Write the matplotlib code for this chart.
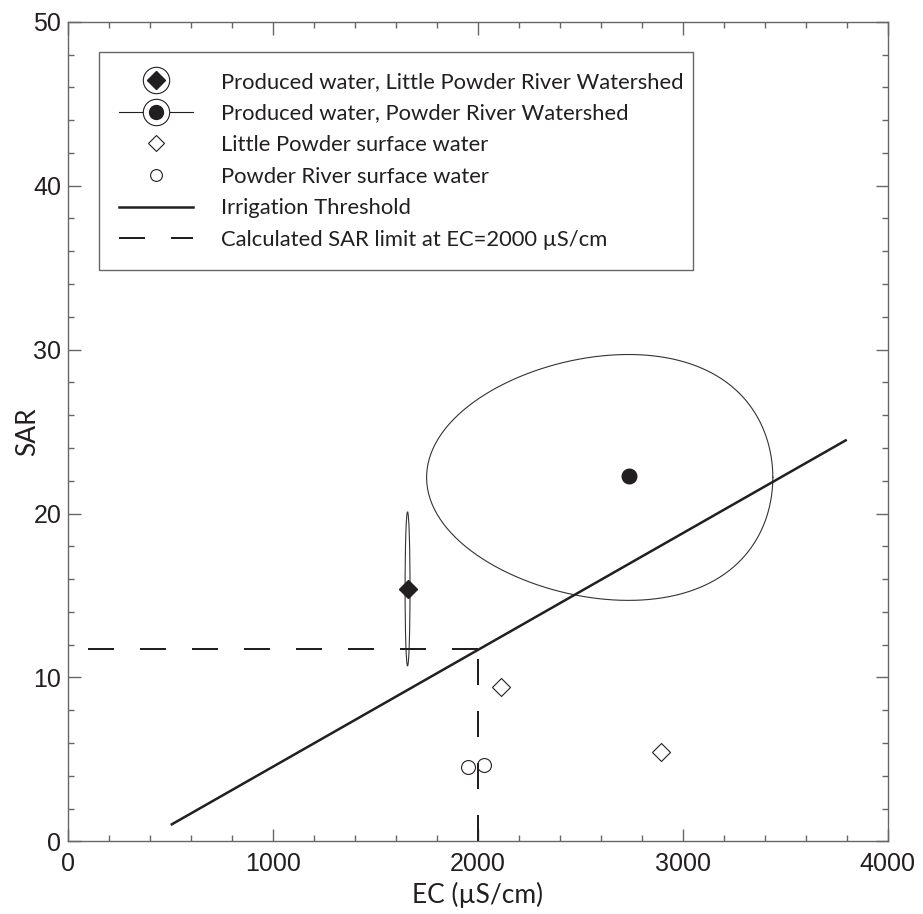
import matplotlib
matplotlib.use("Agg")
import matplotlib.pyplot as plt
import numpy as np
from matplotlib import ticker
from matplotlib.lines import Line2D
from matplotlib.legend_handler import HandlerTuple
from matplotlib.patches import Ellipse

# values
lp_produced_ec = [1656]
lp_produced_sar = [15.39]
lp_ellipse = (1656, 15.4, 24, 9.4)      # centre EC, centre SAR, width, height
pr_produced_ec = [2735]
pr_produced_sar = [22.31]
pr_ellipse = (2594, 22.2, 1690, 15.0)   # centre EC, centre SAR, width, height
pr_ellipse_skew = 140                   # top/bottom of the outline sit right of centre
lp_surface_ec = [2110, 2891]
lp_surface_sar = [9.39, 5.46]
pr_surface_ec = [1949, 2030]
pr_surface_sar = [4.51, 4.67]
threshold_ec = [500, 3800]
threshold_sar = [1.0, 24.5]
limit_ec = 2000
limit_sar = 11.75

legend_labels = [
    "Produced water, Little Powder River Watershed",
    "Produced water, Powder River Watershed",
    "Little Powder surface water",
    "Powder River surface water",
    "Irrigation Threshold",
    "Calculated SAR limit at EC=2000 \u00b5S/cm",
]

tick_font = "Liberation Sans"
text_font = "Lato"
ink = "#231f20"
frame = "#666666"

fig = plt.figure(figsize=(9.23, 9.14), dpi=100)
ax = fig.add_axes([0.074, 0.0795, 0.8878, 0.8967])

ax.add_patch(Ellipse(lp_ellipse[:2], lp_ellipse[2], lp_ellipse[3], fill=False, ec="#333333", lw=0.8))

# egg-shaped confidence outline for the Powder River produced water
t = np.linspace(0, 2 * np.pi, 300)
cx, cy, w, h = pr_ellipse
ax.plot(cx + w / 2 * np.cos(t) + pr_ellipse_skew * np.sin(t) ** 2, cy + h / 2 * np.sin(t),
        color="#333333", lw=0.8)

ax.plot(threshold_ec, threshold_sar, color=ink, lw=1.8, solid_capstyle="butt")
ax.plot([limit_ec, 0], [limit_sar, limit_sar], color=ink, lw=1.44, dashes=(13, 13), dash_capstyle="butt")
ax.plot([limit_ec, limit_ec], [0, limit_sar], color=ink, lw=1.44, dashes=(13, 13), dash_capstyle="butt")

ax.plot(lp_produced_ec, lp_produced_sar, ls="none", marker="D", ms=9.5, color=ink, zorder=5)
ax.plot(pr_produced_ec, pr_produced_sar, ls="none", marker="o", ms=10.5, color=ink, zorder=5)
ax.plot(lp_surface_ec, lp_surface_sar, ls="none", marker="D", ms=9, mfc="white", mec=ink, mew=0.8, zorder=5)
ax.plot(pr_surface_ec, pr_surface_sar, ls="none", marker="o", ms=10, mfc="none", mec=ink, mew=0.8, zorder=5)

ax.set_xlim(0, 4000)
ax.set_ylim(0, 50)
ax.xaxis.set_major_locator(ticker.MultipleLocator(1000))
ax.xaxis.set_minor_locator(ticker.MultipleLocator(200))
ax.yaxis.set_major_locator(ticker.MultipleLocator(10))
ax.yaxis.set_minor_locator(ticker.MultipleLocator(2))
ax.tick_params(which="both", direction="in", top=True, right=True, color=frame, width=1.0)
ax.tick_params(which="major", length=9, pad=8)
ax.tick_params(which="minor", length=4.5)
ax.tick_params(axis="y", pad=5)
for lab in ax.get_xticklabels() + ax.get_yticklabels():
    lab.set_fontfamily(tick_font)
    lab.set_fontsize(18)
    lab.set_color(ink)
for s in ax.spines.values():
    s.set_color(frame)
    s.set_linewidth(1.0)

ax.set_xlabel("EC (\u00b5S/cm)", family=text_font, fontsize=19, color=ink, labelpad=4)
ax.set_ylabel("SAR", family=text_font, fontsize=19, color=ink)
ax.yaxis.set_label_coords(-0.0345, 0.5)

h1 = (Line2D([], [], ls="none", marker="o", ms=19, mfc="white", mec=ink, mew=0.8),
      Line2D([], [], ls="none", marker="D", ms=9, color=ink))
h2 = (Line2D([], [], color=ink, lw=0.8, marker="o", ms=19, mfc="white", mec=ink, mew=0.8),
      Line2D([], [], ls="none", marker="o", ms=10, color=ink))
h3 = Line2D([], [], ls="none", marker="D", ms=8, mfc="white", mec=ink, mew=0.8)
h4 = Line2D([], [], ls="none", marker="o", ms=8.5, mfc="white", mec=ink, mew=0.8)
h5 = Line2D([], [], color=ink, lw=1.8)
h6 = Line2D([], [], color=ink, lw=1.44, dashes=(13, 13))

leg = ax.legend([h1, h2, h3, h4, h5, h6], legend_labels,
                handler_map={tuple: HandlerTuple(ndivide=1)},
                loc="upper left", bbox_to_anchor=(0.0375, 0.695, 0.7245, 0.268),
                mode="expand", borderaxespad=0, numpoints=1,
                prop={"family": text_font, "size": 15.8},
                handlelength=3.4, handletextpad=1.26, borderpad=0.9, labelspacing=0.53,
                fancybox=False, framealpha=1, edgecolor=frame)
leg.get_frame().set_linewidth(1.0)
for txt in leg.get_texts():
    txt.set_color(ink)

fig.savefig("out.png", dpi=100)
